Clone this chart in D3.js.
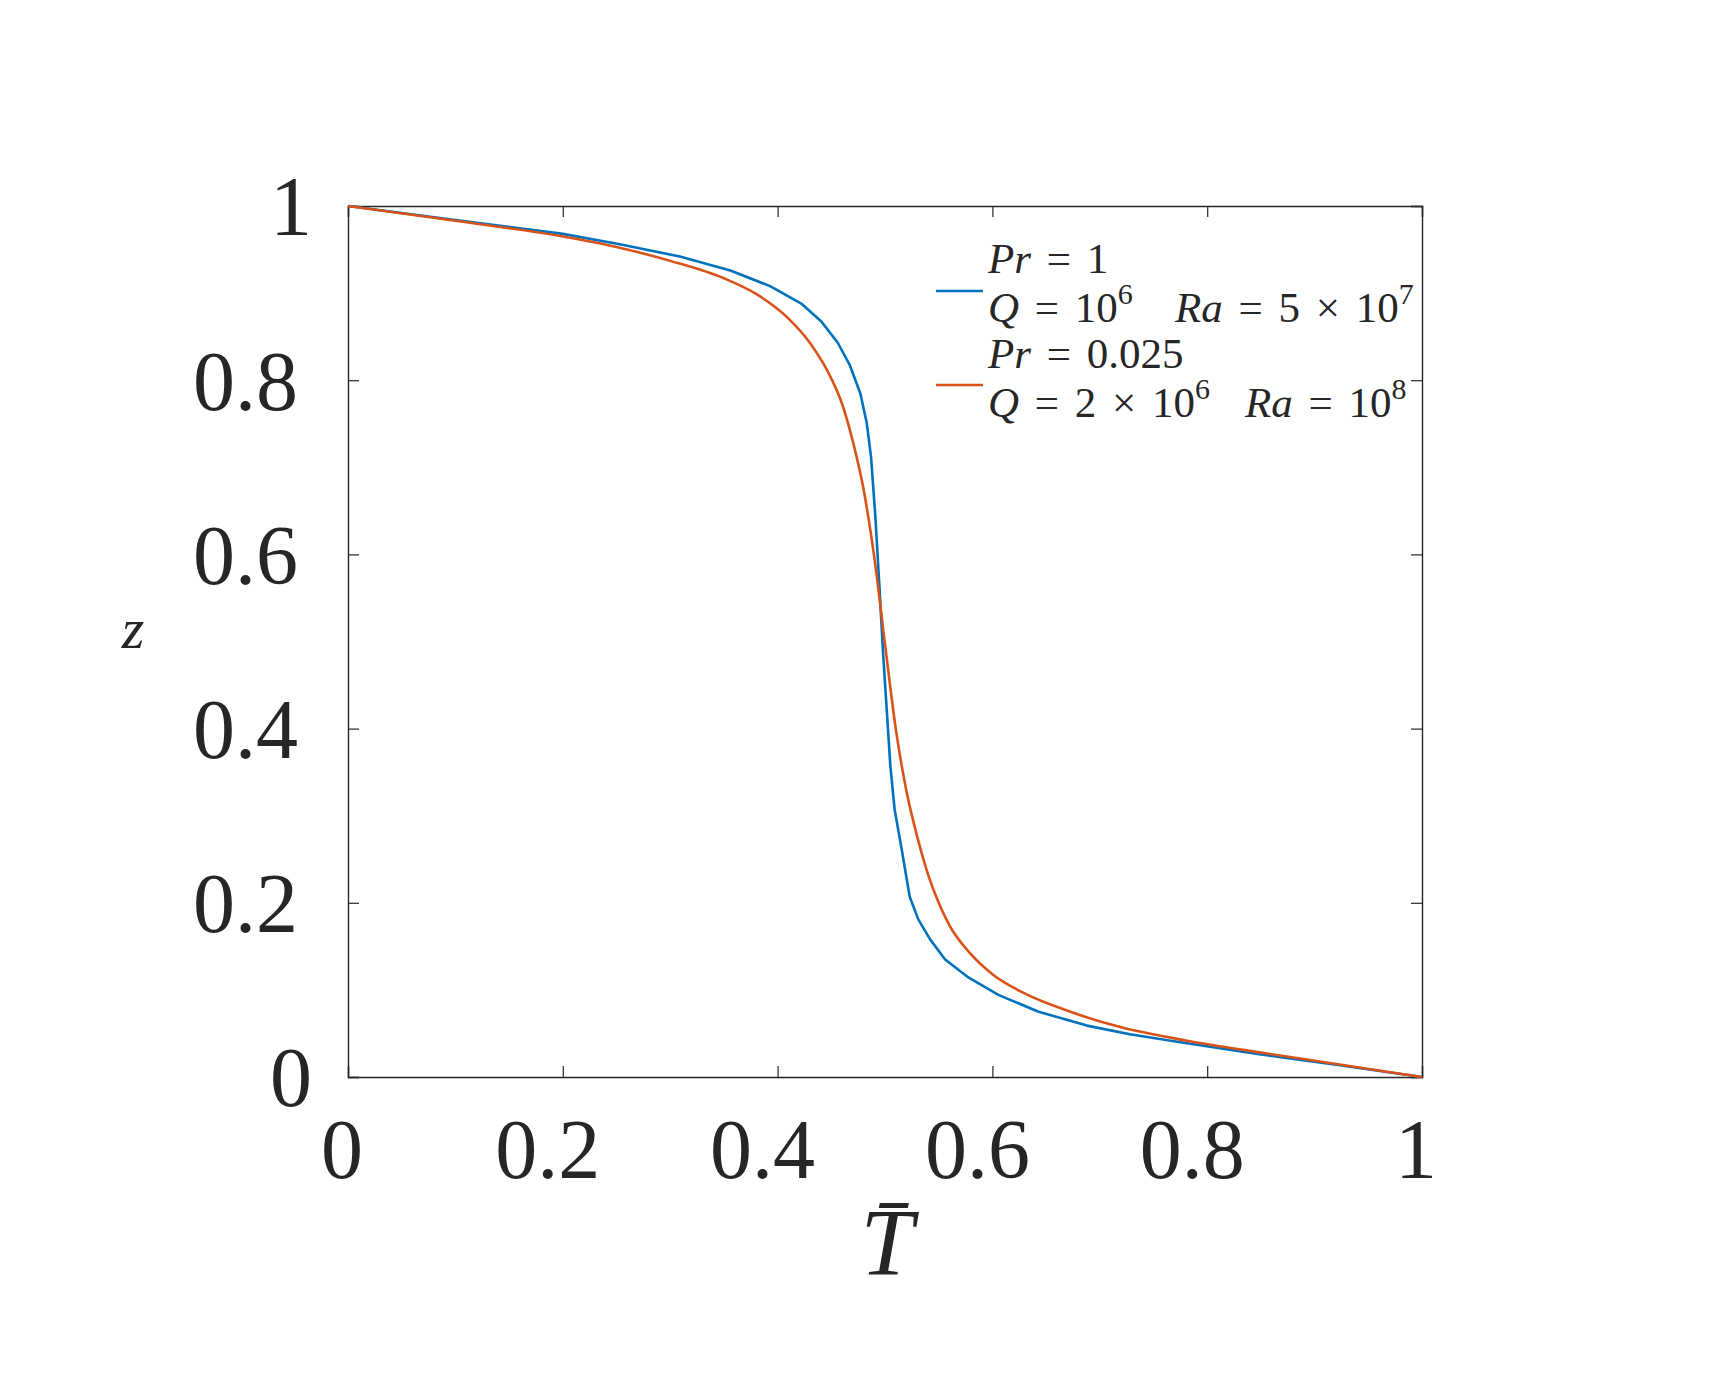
<!DOCTYPE html>
<html>
<head>
<meta charset="utf-8">
<script src="https://d3js.org/d3.v7.min.js"></script>
<style>
  body { margin: 0; background: #fff; }
  text { font-family: "Liberation Serif", "DejaVu Serif", serif; fill: #262626; }
</style>
</head>
<body>
<svg id="chart"></svg>
<script>
// data
var tickValues = [0, 0.2, 0.4, 0.6, 0.8, 1];
var tickLabels = ["0", "0.2", "0.4", "0.6", "0.8", "1"];

// Pr = 1, Q = 1e6, Ra = 5e7
var blueT = [0, 0.1, 0.2, 0.253, 0.309, 0.356, 0.393, 0.422, 0.441, 0.456, 0.467, 0.477, 0.483, 0.487,
    0.491, 0.495, 0.498, 0.502, 0.505, 0.509, 0.516, 0.523, 0.531, 0.542, 0.556, 0.578, 0.606, 0.643,
    0.688, 0.728, 0.775, 0.85, 0.92, 1];
var blueZ = [1, 0.984, 0.968, 0.956, 0.942, 0.926, 0.908, 0.888, 0.867, 0.843, 0.818, 0.785, 0.751, 0.712,
    0.644, 0.559, 0.491, 0.414, 0.357, 0.307, 0.258, 0.207, 0.181, 0.158, 0.135, 0.114, 0.094, 0.075,
    0.059, 0.049, 0.040, 0.026, 0.014, 0];

// Pr = 0.025, Q = 2e6, Ra = 1e8
var orangeT = [0, 0.1, 0.2, 0.25, 0.3, 0.35, 0.38, 0.41, 0.43, 0.45, 0.46, 0.47, 0.48, 0.49, 0.5,
    0.51, 0.52, 0.53, 0.54, 0.55, 0.56, 0.58, 0.6, 0.63, 0.67, 0.72, 0.78, 0.85, 0.92, 1];
var orangeZ = [1, 0.983, 0.965, 0.953, 0.937, 0.917, 0.899, 0.871, 0.843, 0.802, 0.773, 0.730, 0.675, 0.597, 0.497,
    0.400, 0.328, 0.276, 0.233, 0.200, 0.174, 0.141, 0.118, 0.096, 0.076, 0.057, 0.042, 0.028, 0.015, 0];

var blue = "#0072BD";
var orange = "#D95319";
var axisColor = "#262626";

var W = 1711, H = 1373;
// plot box (window.top is read-only, so no plain "top")
var boxLeft = 348, boxRight = 1422, boxTop = 206, boxBottom = 1077;

var svg = d3.select("#chart").attr("width", W).attr("height", H);
svg.append("rect").attr("width", W).attr("height", H).attr("fill", "#fff");

var x = d3.scaleLinear().domain([0, 1]).range([boxLeft, boxRight]);
var y = d3.scaleLinear().domain([0, 1]).range([boxBottom, boxTop]);

//axes, ticks inside on all four sides
var tickLen = 11;
svg.append("g").attr("transform", "translate(0," + boxBottom + ")")
    .call(d3.axisBottom(x).tickValues(tickValues).tickSize(-tickLen).tickFormat(""));
svg.append("g").attr("transform", "translate(0," + boxTop + ")")
    .call(d3.axisTop(x).tickValues(tickValues).tickSize(-tickLen).tickFormat(""));
svg.append("g").attr("transform", "translate(" + boxLeft + ",0)")
    .call(d3.axisLeft(y).tickValues(tickValues).tickSize(-tickLen).tickFormat(""));
svg.append("g").attr("transform", "translate(" + boxRight + ",0)")
    .call(d3.axisRight(y).tickValues(tickValues).tickSize(-tickLen).tickFormat(""));
svg.selectAll(".domain").attr("stroke", axisColor).attr("stroke-width", 1.4);
svg.selectAll(".tick line").attr("stroke", axisColor).attr("stroke-width", 1.2);

//tick labels
svg.append("g").selectAll("text")
    .data(tickValues)
    .enter().append("text")
    .attr("x", function (d, i) {
        return x(d) + (tickLabels[i].length > 1 ? -15 : -6);
    })
    .attr("y", 1178)
    .attr("text-anchor", "middle")
    .attr("font-size", 84)
    .text(function (d, i) { return tickLabels[i]; });

svg.append("g").selectAll("text")
    .data(tickValues)
    .enter().append("text")
    .attr("x", function (d, i) {
        return tickLabels[i].length > 1 ? 298 : 312;
    })
    .attr("y", function (d) { return y(d); })
    .attr("dy", "0.35em")
    .attr("text-anchor", "end")
    .attr("font-size", 84)
    .text(function (d, i) { return tickLabels[i]; });

//axis titles
svg.append("text")
    .attr("x", 887).attr("y", 1275)
    .attr("text-anchor", "middle")
    .attr("font-size", 95)
    .attr("font-style", "italic")
    .text("T\u0304");

svg.append("text")
    .attr("x", 133).attr("y", 648)
    .attr("text-anchor", "middle")
    .attr("font-size", 58)
    .attr("font-style", "italic")
    .text("z");

//curves
var line = d3.line()
    .x(function (d) { return x(d[0]); })
    .y(function (d) { return y(d[1]); });

svg.append("path")
    .datum(d3.zip(blueT, blueZ))
    .attr("fill", "none")
    .attr("stroke", blue)
    .attr("stroke-width", 2.6)
    .attr("stroke-linejoin", "round")
    .attr("d", line);

svg.append("path")
    .datum(d3.zip(orangeT, orangeZ))
    .attr("fill", "none")
    .attr("stroke", orange)
    .attr("stroke-width", 2.6)
    .attr("stroke-linejoin", "round")
    .attr("d", line.curve(d3.curveMonotoneX));

//legend
var legendFont = 43;
function eqText(g, xPos, yPos, parts) {
    var t = g.append("text").attr("x", xPos).attr("y", yPos)
        .attr("font-size", legendFont)
        .attr("word-spacing", 5)
        .attr("xml:space", "preserve");
    parts.forEach(function (p) {
        var s = t.append("tspan").text(p.s);
        if (p.i) s.attr("font-style", "italic");
        if (p.sup) s.attr("font-size", 30).attr("dy", -18);
    });
}

var legend = svg.append("g");
legend.append("line").attr("x1", 936).attr("x2", 983).attr("y1", 291).attr("y2", 291)
    .attr("stroke", blue).attr("stroke-width", 2.6);
legend.append("line").attr("x1", 936).attr("x2", 983).attr("y1", 385).attr("y2", 385)
    .attr("stroke", orange).attr("stroke-width", 2.6);

eqText(legend, 988, 273, [{s: "Pr", i: true}, {s: " = 1"}]);
eqText(legend, 988, 322, [{s: "Q", i: true}, {s: " = 10"}, {s: "6", sup: true}]);
eqText(legend, 1175, 322, [{s: "Ra", i: true}, {s: " = 5 \u00d7 10"}, {s: "7", sup: true}]);
eqText(legend, 988, 368, [{s: "Pr", i: true}, {s: " = 0.025"}]);
eqText(legend, 988, 417, [{s: "Q", i: true}, {s: " = 2 \u00d7 10"}, {s: "6", sup: true}]);
eqText(legend, 1245, 417, [{s: "Ra", i: true}, {s: " = 10"}, {s: "8", sup: true}]);
</script>
</body>
</html>
